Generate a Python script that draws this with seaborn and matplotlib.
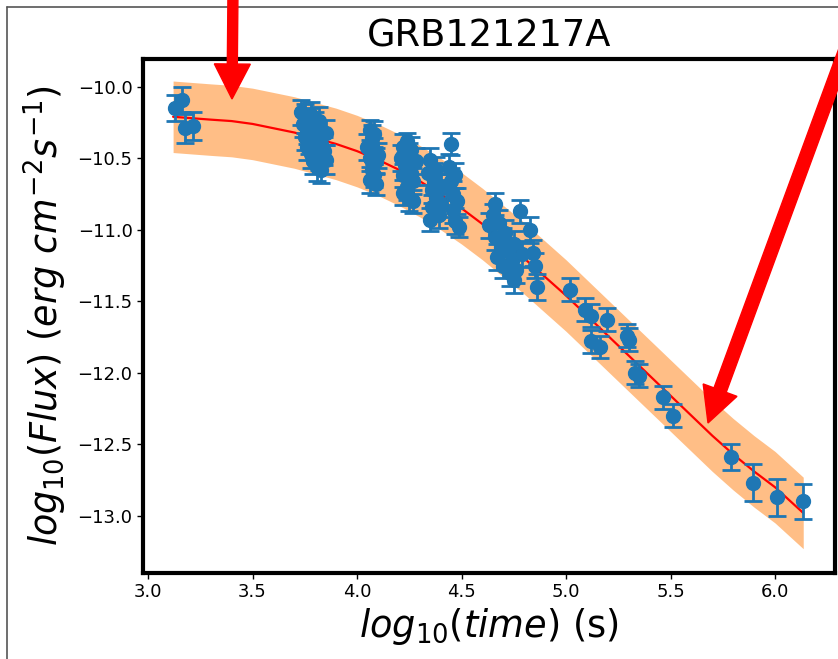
import numpy as np
import pandas as pd
import matplotlib
matplotlib.use("Agg")
import matplotlib.pyplot as plt
import seaborn as sns
from matplotlib.patches import FancyArrow
from matplotlib.lines import Line2D
from matplotlib.transforms import IdentityTransform

# ---- data ----
log_time = [3.13, 3.164, 3.177, 3.215,
            3.73, 3.74, 3.75, 3.75, 3.76, 3.76, 3.77, 3.77, 3.78, 3.78, 3.79, 3.79,
            3.80, 3.80, 3.81, 3.81, 3.82, 3.82, 3.83, 3.83, 3.84, 3.85, 3.85,
            4.05, 4.06, 4.06, 4.07, 4.07, 4.08, 4.08, 4.08, 4.09, 4.09, 4.10, 4.06, 4.07,
            4.21, 4.22, 4.22, 4.23, 4.24, 4.24, 4.25, 4.25, 4.26, 4.26, 4.27, 4.28, 4.22, 4.27,
            4.34, 4.35, 4.36, 4.36, 4.37, 4.38, 4.38, 4.39, 4.40, 4.40, 4.35, 4.37,
            4.45, 4.44, 4.45, 4.46, 4.46, 4.47, 4.47, 4.48, 4.43, 4.49,
            4.63, 4.65, 4.66, 4.66, 4.67, 4.68, 4.69, 4.70, 4.70, 4.71, 4.72, 4.73,
            4.74, 4.75, 4.75, 4.76, 4.78, 4.79, 4.83, 4.84, 4.85, 4.86,
            5.02, 5.09, 5.12, 5.195, 5.12, 5.163, 5.29, 5.30, 5.33, 5.35, 5.466, 5.514,
            5.79, 5.897, 6.008, 6.135]
log_flux = [-10.15, -10.09, -10.29, -10.275,
            -10.18, -10.26, -10.22, -10.35, -10.30, -10.42, -10.25, -10.38, -10.47, -10.20, -10.33, -10.52,
            -10.28, -10.44, -10.56, -10.36, -10.24, -10.49, -10.40, -10.58, -10.45, -10.32, -10.51,
            -10.42, -10.30, -10.50, -10.36, -10.58, -10.45, -10.62, -10.33, -10.52, -10.68, -10.48, -10.65, -10.40,
            -10.50, -10.42, -10.62, -10.55, -10.38, -10.70, -10.48, -10.78, -10.60, -10.44, -10.66, -10.52, -10.74, -10.80,
            -10.60, -10.51, -10.72, -10.84, -10.66, -10.78, -10.58, -10.90, -10.70, -10.82, -10.93, -10.62,
            -10.40, -10.56, -10.66, -10.75, -10.86, -10.62, -10.94, -10.80, -10.70, -10.98,
            -10.97, -10.90, -10.82, -11.05, -11.19, -10.95, -11.12, -11.08, -11.25, -11.02, -11.15, -11.30,
            -11.22, -11.35, -11.10, -11.28, -10.87, -11.17, -11.00, -11.16, -11.25, -11.40,
            -11.42, -11.56, -11.60, -11.63, -11.78, -11.82, -11.74, -11.77, -12.00, -12.02, -12.17, -12.30,
            -12.59, -12.77, -12.87, -12.90]
flux_err = [0.09, 0.09, 0.10, 0.10,
            0.09, 0.09, 0.10, 0.09, 0.10, 0.09, 0.10, 0.09, 0.10, 0.09, 0.10, 0.09,
            0.10, 0.09, 0.10, 0.09, 0.10, 0.09, 0.10, 0.09, 0.10, 0.09, 0.10,
            0.09, 0.07, 0.09, 0.09, 0.08, 0.09, 0.08, 0.09, 0.09, 0.08, 0.09, 0.09, 0.09,
            0.09, 0.09, 0.08, 0.09, 0.06, 0.09, 0.09, 0.09, 0.09, 0.09, 0.09, 0.09, 0.09, 0.08,
            0.09, 0.08, 0.09, 0.08, 0.09, 0.09, 0.09, 0.09, 0.09, 0.09, 0.08, 0.09,
            0.08, 0.09, 0.09, 0.09, 0.09, 0.09, 0.09, 0.09, 0.09, 0.07,
            0.09, 0.08, 0.08, 0.09, 0.09, 0.09, 0.09, 0.09, 0.09, 0.09, 0.09, 0.09,
            0.09, 0.09, 0.09, 0.09, 0.08, 0.09, 0.09, 0.09, 0.09, 0.09,
            0.08, 0.08, 0.08, 0.08, 0.08, 0.08, 0.08, 0.08, 0.08, 0.08, 0.08, 0.08,
            0.09, 0.13, 0.13, 0.125]

fit_x = [3.12, 3.30, 3.40, 3.50, 3.60, 3.70, 3.80, 3.90, 4.00, 4.10, 4.20, 4.30, 4.40,
         4.50, 4.60, 4.70, 4.80, 4.90, 5.00, 5.10, 5.20, 5.30, 5.40, 5.50, 5.60,
         5.70, 5.80, 5.90, 6.00, 6.135]
fit_y = [-10.21, -10.23, -10.24, -10.26, -10.29, -10.32, -10.36, -10.40, -10.45,
         -10.51, -10.58, -10.66, -10.75, -10.85, -10.96, -11.08, -11.20, -11.33,
         -11.46, -11.60, -11.74, -11.88, -12.02, -12.16, -12.30, -12.44, -12.57,
         -12.69, -12.80, -12.98]
band_halfwidth = 0.25

title = "GRB121217A"
x_label = r"$log_{10}(time)$ (s)"
y_label = r"$log_{10}(Flux)\ (erg\ cm^{-2}s^{-1})$"

# ---- figure ----
W, H, DPI = 838, 659, 100
sns.set_style("white")
plt.rcParams["font.family"] = ["DejaVu Sans"]
plt.rcParams["mathtext.fontset"] = "dejavusans"
for k in ["text.color", "axes.labelcolor", "xtick.color", "ytick.color"]:
    plt.rcParams[k] = "black"

fig = plt.figure(figsize=(W / DPI, H / DPI), dpi=DPI)
ax = fig.add_axes([143 / W, 1 - 573 / H, (835 - 143) / W, (573 - 59) / H])

fit_df = pd.DataFrame({"x": fit_x, "y": fit_y})
lower = np.array(fit_y) - band_halfwidth
upper = np.array(fit_y) + band_halfwidth
ax.fill_between(fit_x, lower, upper, color="C1", alpha=0.5, linewidth=0, zorder=1)
sns.lineplot(data=fit_df, x="x", y="y", color="red", linewidth=1.6, ax=ax, zorder=2)

ax.errorbar(log_time, log_flux, yerr=flux_err, fmt="o", color="C0", markersize=10,
            elinewidth=2, capsize=6.5, capthick=2, zorder=3)

ax.set_xlim(2.976, 6.287)
ax.set_ylim(-13.40, -9.806)
ax.set_xticks([3.0, 3.5, 4.0, 4.5, 5.0, 5.5, 6.0])
ax.set_yticks([-10.0, -10.5, -11.0, -11.5, -12.0, -12.5, -13.0])
ax.tick_params(axis="both", labelsize=13, direction="out", length=4, width=1,
               bottom=True, left=True, colors="black")
for s in ax.spines.values():
    s.set_linewidth(3)
    s.set_color("black")

ax.set_title(title, fontsize=26.5, pad=9)
ax.set_xlabel(x_label, fontsize=26.5, labelpad=3)
ax.set_ylabel(y_label, fontsize=26.3, labelpad=6)

# figure border (cropped on right/bottom)
tr = IdentityTransform()
fig.add_artist(Line2D([7, 7], [-5, H - 7], transform=tr, color="#555555", linewidth=1.2))
fig.add_artist(Line2D([7, W + 5], [H - 7, H - 7], transform=tr, color="#555555", linewidth=1.2))

# red arrows (pixel coordinates, origin bottom-left)
def arrow(tail, tip, width):
    dx, dy = tip[0] - tail[0], tip[1] - tail[1]
    a = FancyArrow(tail[0], tail[1], dx, dy, width=width, head_width=36, head_length=35,
                   length_includes_head=True, color="red", transform=tr, zorder=10)
    fig.add_artist(a)

arrow((233, H + 10), (232, H - 99), 10)
arrow((846, H - 48), (708, H - 423), 13)

fig.savefig("out.png", dpi=DPI)
